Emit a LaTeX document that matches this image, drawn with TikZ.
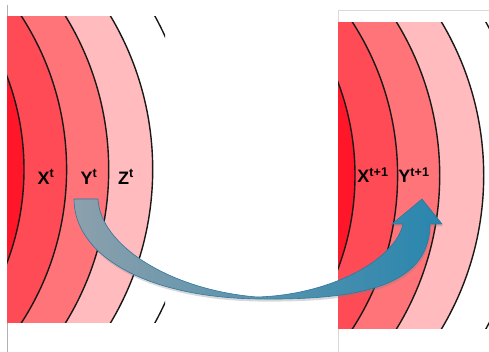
\documentclass[tikz,border=0pt]{standalone}
\usepackage{fontspec}
\setmainfont{Liberation Sans}
\usetikzlibrary{shadows}
\definecolor{ringA}{RGB}{255,22,40}
\definecolor{ringB}{RGB}{255,75,85}
\definecolor{ringC}{RGB}{255,116,121}
\definecolor{ringD}{RGB}{255,187,190}
\definecolor{tailgray}{RGB}{140,160,172}
\definecolor{headblue}{RGB}{40,134,174}
\definecolor{arrowedge}{RGB}{45,120,160}
\tikzset{
  ringline/.style={draw=black!90, line width=1.4pt},
  lbl/.style={font=\fontsize{18}{20}\selectfont\bfseries, inner sep=0pt, text=black},
  frameline/.style={line width=0.8pt},
}
\begin{document}
\begin{tikzpicture}[x=1pt,y=-1pt]
\useasboundingbox (0,0) rectangle (489,352);
\fill[white] (0,0) rectangle (489,352);
% frame lines
\draw[frameline, draw=black!30] (7,5) -- (7,352);
\draw[frameline, draw=black!15] (338,352) -- (338,10) -- (489,10);
% left panel
\begin{scope}[shift={(7,17)}]
  \clip (0,0) rectangle (158,305);
  \fill[ringD] (-154,152.5) circle[radius=299.7pt];
  \fill[ringC] (-192,152.5) circle[radius=293.7pt];
  \fill[ringB] (-223,152.5) circle[radius=282.6pt];
  \fill[ringA] (-246,152.5) circle[radius=263pt];
  \draw[ringline] (-246,152.5) circle[radius=263pt];
  \draw[ringline] (-223,152.5) circle[radius=282.6pt];
  \draw[ringline] (-192,152.5) circle[radius=293.7pt];
  \draw[ringline] (-154,152.5) circle[radius=299.7pt];
  \draw[ringline] (-133,152.5) circle[radius=320pt];
\end{scope}
% right panel
\begin{scope}[shift={(338,23)}]
  \clip (0,0) rectangle (151,305);
  \fill[ringD] (-154,152.5) circle[radius=299.7pt];
  \fill[ringC] (-192,152.5) circle[radius=293.7pt];
  \fill[ringB] (-223,152.5) circle[radius=282.6pt];
  \fill[ringA] (-246,152.5) circle[radius=263pt];
  \draw[ringline] (-246,152.5) circle[radius=263pt];
  \draw[ringline] (-223,152.5) circle[radius=282.6pt];
  \draw[ringline] (-192,152.5) circle[radius=293.7pt];
  \draw[ringline] (-154,152.5) circle[radius=299.7pt];
  \draw[ringline] (-133,152.5) circle[radius=320pt];
\end{scope}
% labels
\node[lbl] (xt) at (46,177) {X\textsuperscript{t}};
\node[lbl] (yt) at (89,177) {Y\textsuperscript{t}};
\node[lbl] (zt) at (126,177) {Z\textsuperscript{t}};
\node[lbl] (xt1) at (373,175) {X\textsuperscript{t+1}};
\node[lbl] (yt1) at (414,175) {Y\textsuperscript{t+1}};
% curved arrow
\path[drop shadow={opacity=0.3, shadow xshift=1pt, shadow yshift=-2.5pt},
      left color=tailgray, right color=headblue, draw=arrowedge, line width=0.6pt,
      line join=miter]
  (74,199) -- (98,199)
  .. controls (100,245) and (170,290) .. (257,297)
  .. controls (330,295) and (395,260) .. (403,224)
  -- (392,224) -- (422,199) -- (442,224) -- (430,224)
  .. controls (430,290) and (350,300) .. (257,299)
  .. controls (145,297) and (74,255) .. cycle;
\end{tikzpicture}
\end{document}
